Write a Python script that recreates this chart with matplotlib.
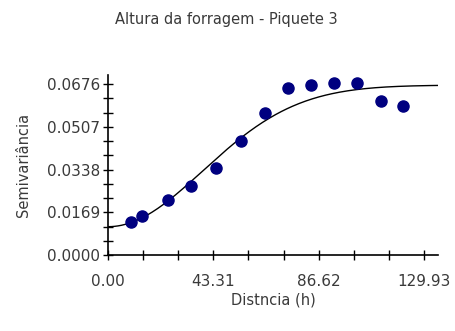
import matplotlib.pyplot as plt
import numpy as np
from matplotlib.ticker import MultipleLocator, FixedLocator, NullFormatter

# Experimental semivariogram (lag distance, semivariance)
lag = [9.3, 13.9, 24.8, 34.0, 44.4, 54.6, 64.7, 74.1, 83.6, 93.1, 102.5, 112.1, 121.4]
semivar = [0.0132, 0.0154, 0.0217, 0.0273, 0.0343, 0.0452, 0.0563,
           0.0659, 0.0672, 0.0681, 0.0679, 0.0609, 0.0589]

# Fitted gaussian model parameters
nugget = 0.0112
partial_sill = 0.0560
model_range = 55.0

x_ticks = [0.00, 43.31, 86.62, 129.93]
y_ticks = [0.0000, 0.0169, 0.0338, 0.0507, 0.0676]

text_color = '#3a3a3a'
plt.rcParams['font.family'] = 'DejaVu Sans'

fig = plt.figure(figsize=(4.56, 3.31), dpi=100)
ax = fig.add_axes([0.237, 0.2296, 0.7235, 0.5438])

h = np.linspace(0, 135.7, 300)
gamma = nugget + partial_sill * (1 - np.exp(-(h / model_range) ** 2))
ax.plot(h, gamma, color='black', linewidth=1.0, zorder=2)
ax.plot(lag, semivar, 'o', color='#000080', markersize=8, zorder=3)

ax.set_xlim(0, 135.7)
ax.set_ylim(0, 0.0712)

ax.xaxis.set_major_locator(FixedLocator(x_ticks))
ax.xaxis.set_minor_locator(MultipleLocator(x_ticks[1] / 3))
ax.yaxis.set_major_locator(FixedLocator(y_ticks))
ax.yaxis.set_minor_locator(MultipleLocator(y_ticks[1] / 3))
ax.set_xticklabels([f'{v:.2f}' for v in x_ticks])
ax.set_yticklabels([f'{v:.4f}' for v in y_ticks])
ax.xaxis.set_minor_formatter(NullFormatter())

ax.tick_params(which='both', direction='inout', length=7, width=1.0,
               color='black', labelsize=11, labelcolor=text_color)
ax.tick_params(axis='x', which='both', pad=10)
ax.tick_params(axis='y', which='both', pad=2)

for side in ['top', 'right']:
    ax.spines[side].set_visible(False)
for side in ['left', 'bottom']:
    ax.spines[side].set_linewidth(1.2)

ax.set_xlabel('Distncia (h)', fontsize=10.5, color=text_color, labelpad=3)
ax.set_ylabel('Semivariância', fontsize=10.5, color=text_color, labelpad=12)
fig.text(0.497, 0.94, 'Altura da forragem - Piquete 3', ha='center', va='center',
         fontsize=10.5, color=text_color)

fig.savefig('out.png', dpi=100)
